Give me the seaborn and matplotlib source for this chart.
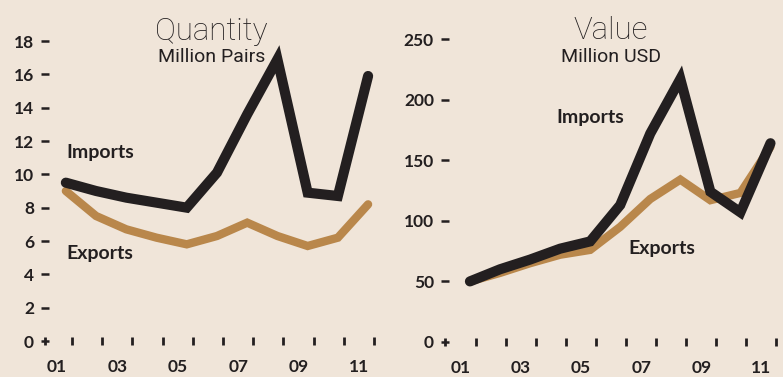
import numpy as np
import pandas as pd
import seaborn as sns
import matplotlib.pyplot as plt

# data
years = [1, 2, 3, 4, 5, 6, 7, 8, 9, 10, 11]
year_labels = ['01', '03', '05', '07', '09', '11']
qty_imports = [9.5, 9.0, 8.6, 8.3, 8.0, 10.1, 13.6, 16.9, 8.9, 8.7, 15.9]
qty_exports = [9.0, 7.5, 6.7, 6.2, 5.8, 6.3, 7.1, 6.3, 5.7, 6.2, 8.2]
val_imports = [50, 60, 68, 77, 83, 113, 172, 217, 124, 107, 164]
val_exports = [50, 57, 65, 72, 76, 95, 118, 134, 117, 123, 161]

bg = '#f0e5d9'
dark = '#231f20'
tan = '#b9874b'

sns.set_theme(style='white')
plt.rcParams['font.family'] = ['Lato', 'DejaVu Sans']

fig = plt.figure(figsize=(7.83, 3.77), dpi=100, facecolor=bg)
W, H = 783, 377

def make_axes(left, right, y0, ytop):
    return fig.add_axes([left / W, (H - y0) / H, (right - left) / W, (y0 - ytop) / H])

ax1 = make_axes(45, 382, 341, 41)
ax2 = make_axes(445, 781, 342, 39)

panels = [
    (ax1, qty_imports, qty_exports, (0, 18), np.arange(0, 19, 2), 0.61, 11.76),
    (ax2, val_imports, val_exports, (0, 250), np.arange(0, 251, 50), 0.47, 11.65),
]

for ax, imp, exp, ylim, yticks, xl, xr in panels:
    ax.set_facecolor(bg)
    df = pd.DataFrame({'x': [y + 0.3 for y in years], 'Imports': imp, 'Exports': exp})
    sns.lineplot(data=df, x='x', y='Exports', ax=ax, color=tan, linewidth=6,
                 solid_capstyle='round', solid_joinstyle='miter', clip_on=False)
    sns.lineplot(data=df, x='x', y='Imports', ax=ax, color=dark, linewidth=7.3,
                 solid_capstyle='round', solid_joinstyle='miter', clip_on=False)
    ax.set_xlim(xl, xr)
    ax.set_ylim(*ylim)
    ax.set_yticks(yticks)
    ax.set_xticks([1, 3, 5, 7, 9, 11])
    ax.set_xticklabels(year_labels)
    ax.set_xticks([xl] + [y + 0.5 for y in years], minor=True)
    ax.tick_params(axis='x', which='major', length=0, pad=13, labelsize=12.5, labelcolor=dark)
    ax.tick_params(axis='x', which='minor', direction='inout', length=6, width=2,
                   color=dark, bottom=True)
    ax.tick_params(axis='y', direction='inout', length=6, width=1.8, color=dark,
                   pad=5, labelsize=12.5, labelcolor=dark, left=True)
    for lab in ax.get_xticklabels() + ax.get_yticklabels():
        lab.set_fontweight('bold')
    ax.set_xlabel('')
    ax.set_ylabel('')
    for s in ax.spines.values():
        s.set_visible(False)

txt = dict(color=dark, fontsize=14, fontweight='bold', va='baseline')
ax1.text(1.33, 10.98, 'Imports', **txt)
ax1.text(1.33, 4.92, 'Exports', **txt)
ax2.text(4.16, 180.7, 'Imports', **txt)
ax2.text(6.58, 72.6, 'Exports', **txt)

title_font = ['Roboto', 'DejaVu Sans']
fig.text(211.5 / W, 1 - 40 / H, 'Quantity', ha='center', va='baseline',
         fontsize=22.5, fontweight='light', family=title_font, color=dark)
fig.text(211.5 / W, 1 - 62 / H, 'Million Pairs', ha='center', va='baseline',
         fontsize=14, fontweight='normal', family=title_font, color=dark)
fig.text(611 / W, 1 - 39 / H, 'Value', ha='center', va='baseline',
         fontsize=22.5, fontweight='light', family=title_font, color=dark)
fig.text(611 / W, 1 - 62 / H, 'Million USD', ha='center', va='baseline',
         fontsize=14, fontweight='normal', family=title_font, color=dark)

fig.savefig('out.png', dpi=100, facecolor=bg)
